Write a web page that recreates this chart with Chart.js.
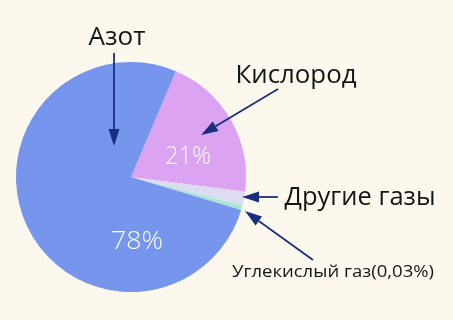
<!DOCTYPE html>
<html lang="ru">
<head>
    <meta charset="utf-8" />
    <title>Состав воздуха</title>
    <style>
        html, body { margin: 0; padding: 0; background: #fdf8ee; }
        #wrap { width: 453px; height: 320px; }
    </style>
</head>
<body>
    <div id="wrap"><canvas id="airChart" width="453" height="320"></canvas></div>
    <script src="https://cdn.jsdelivr.net/npm/chart.js"></script>
    <script>
        // slices, clockwise from the Азот/Кислород border
        var gasNames = ['Кислород', 'Другие газы', 'Углекислый газ', 'Азот'];
        var gasShares = [21, 2, 0.6, 78];
        var sliceColors = ['#dca3f2', '#dcdcf3', '#a6e6d6', '#7696ed'];
        var insideLabels = ['21%', '', '', '78%'];
        var captionCO2 = 'Углекислый газ(0,03%)';

        var ink = '#151515';
        var arrowInk = '#182f80';
        var fontFam = '"Open Sans", "Noto Sans", sans-serif';

        // text stretched sideways to the width it has in the picture
        function fitText(ctx, txt, x, y, w) {
            var k = w / ctx.measureText(txt).width;
            ctx.save();
            ctx.translate(x, y);
            ctx.scale(k, 1);
            ctx.fillText(txt, 0, 0);
            ctx.restore();
        }

        function arrow(ctx, x1, y1, x2, y2) {
            var a = Math.atan2(y2 - y1, x2 - x1);
            var len = 17, half = 5.5;
            var bx = x2 - Math.cos(a) * len, by = y2 - Math.sin(a) * len;
            ctx.strokeStyle = arrowInk;
            ctx.fillStyle = arrowInk;
            ctx.lineWidth = 1.8;
            ctx.beginPath();
            ctx.moveTo(x1, y1);
            ctx.lineTo(bx, by);
            ctx.stroke();
            ctx.beginPath();
            ctx.moveTo(x2, y2);
            ctx.lineTo(bx + Math.sin(a) * half, by - Math.cos(a) * half);
            ctx.lineTo(bx - Math.sin(a) * half, by + Math.cos(a) * half);
            ctx.closePath();
            ctx.fill();
        }

        var notes = {
            id: 'notes',
            afterDraw: function (chart) {
                var ctx = chart.ctx;
                var arcs = chart.getDatasetMeta(0).data;
                var cx = arcs[0].x, cy = arcs[0].y;
                ctx.save();
                ctx.textAlign = 'center';
                ctx.textBaseline = 'middle';

                // percentages inside the pie
                ctx.fillStyle = '#ffffff';
                ctx.font = '300 25px ' + fontFam;
                fitText(ctx, insideLabels[0], cx + 57, cy - 20, 46);
                fitText(ctx, insideLabels[3], cx + 6, cy + 65, 52);

                // captions
                ctx.fillStyle = ink;
                ctx.font = '25px ' + fontFam;
                fitText(ctx, gasNames[3], 117, 38, 57);
                fitText(ctx, gasNames[0], 296, 76, 121);
                fitText(ctx, gasNames[1], 360, 198, 151);
                ctx.font = '16px ' + fontFam;
                fitText(ctx, captionCO2, 333, 272, 202);

                arrow(ctx, 114, 53, 114, 146);
                arrow(ctx, 278, 89, 201, 135);
                arrow(ctx, 278, 197, 242, 197);
                arrow(ctx, 313, 260, 245, 211);
                ctx.restore();
            }
        };

        new Chart(document.getElementById('airChart'), {
            type: 'pie',
            data: {
                labels: gasNames,
                datasets: [{
                    data: gasShares,
                    backgroundColor: sliceColors,
                    borderWidth: 0
                }]
            },
            options: {
                responsive: false,
                animation: false,
                rotation: 23,
                layout: { padding: { left: 16, right: 207, top: 62, bottom: 28 } },
                plugins: {
                    legend: { display: false },
                    tooltip: { enabled: false }
                }
            },
            plugins: [notes]
        });
    </script>
</body>
</html>
